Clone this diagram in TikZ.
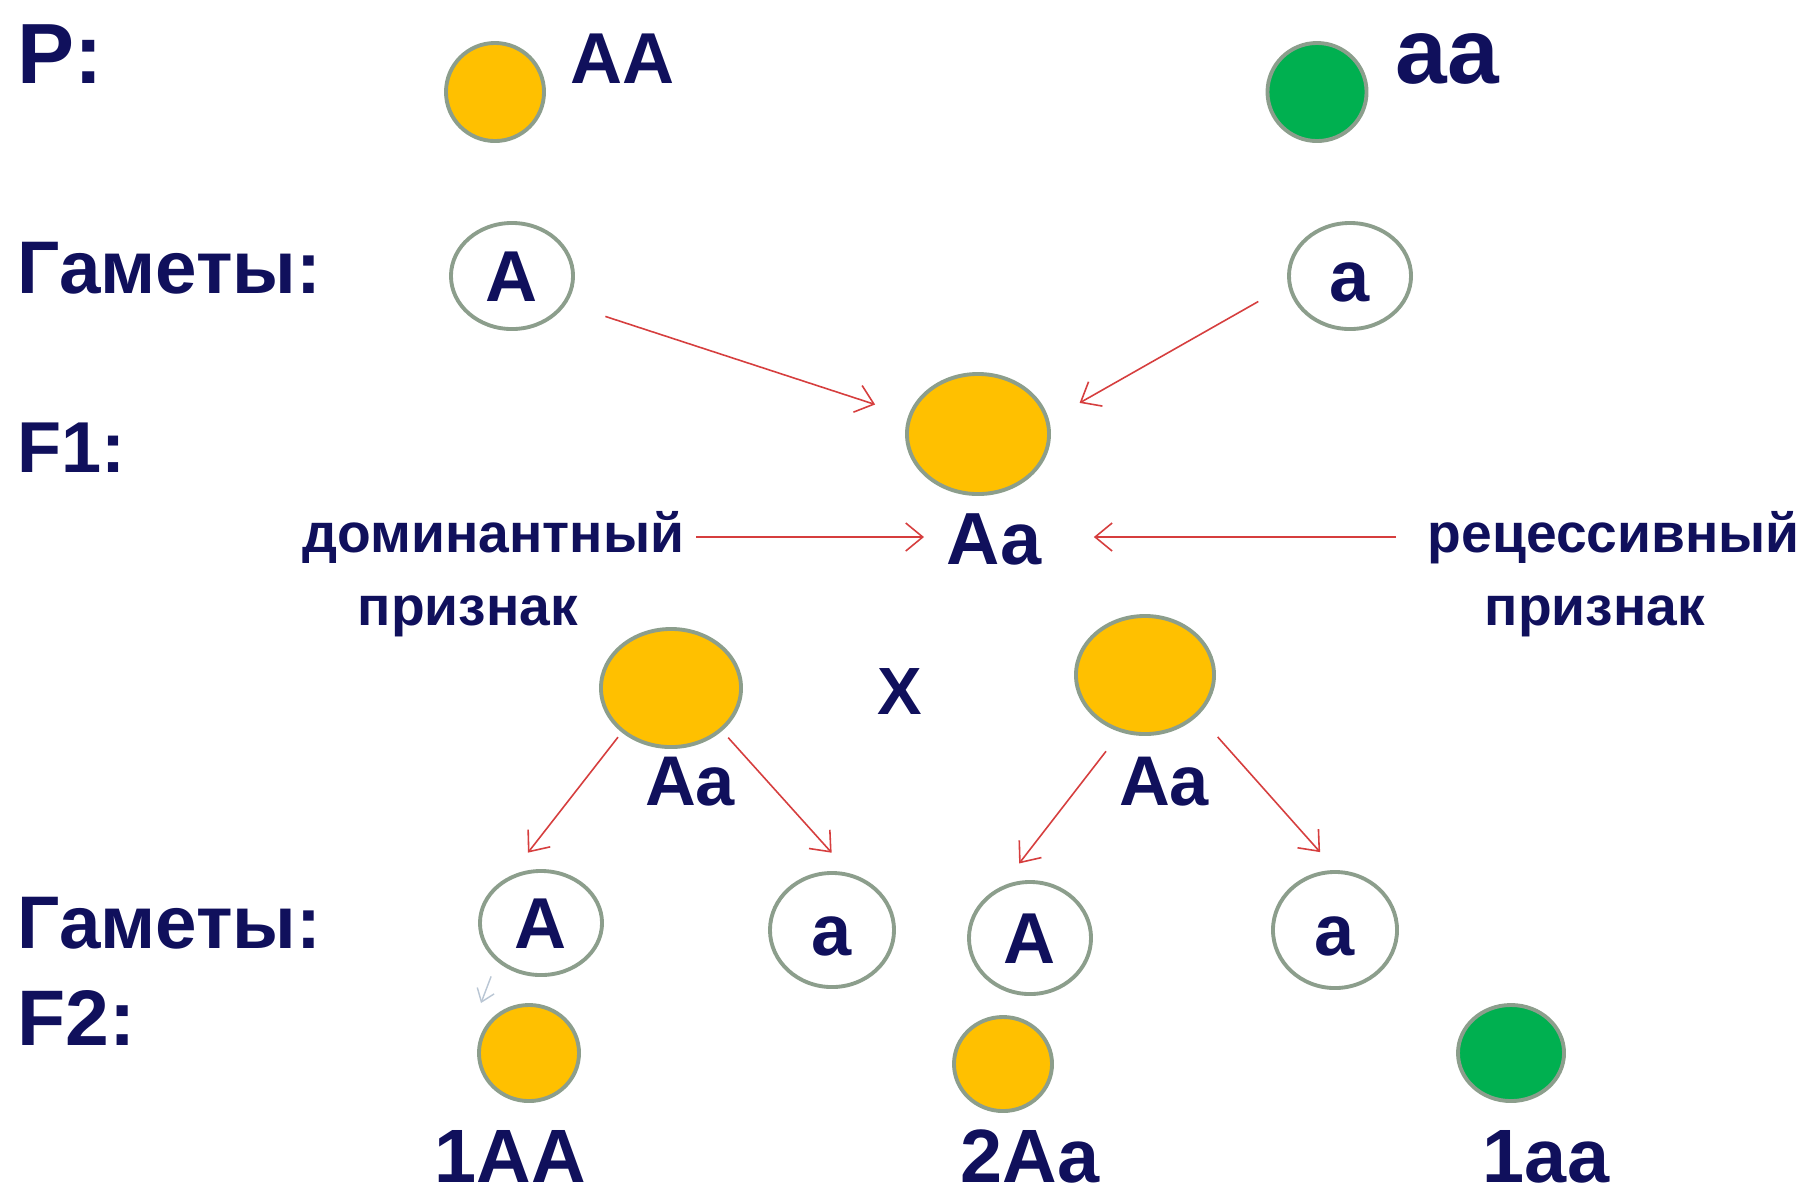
\documentclass[tikz,border=0pt]{standalone}
\usepackage{fontspec}
\setmainfont{Liberation Sans}
\usetikzlibrary{shapes.geometric,arrows.meta}

\definecolor{ink}{RGB}{16,16,92}
\definecolor{yellowball}{RGB}{255,192,0}
\definecolor{greenball}{RGB}{0,176,80}
\definecolor{rim}{RGB}{140,158,140}
\definecolor{linkred}{RGB}{214,62,62}
\definecolor{faintblue}{RGB}{185,198,212}

\newcommand\setfs[1]{\fontsize{#1}{#1}\selectfont}

\begin{document}
\begin{tikzpicture}[x=0.01cm,y=-0.01cm,
  lbl/.style={inner sep=0pt, text=ink, font=\bfseries\setfs{21.2}},
  ball/.style={ellipse, draw=rim, line width=1.1pt, inner sep=0pt},
  yball/.style={ball, fill=yellowball},
  gball/.style={ball, fill=greenball},
  gamete/.style={ellipse, draw=rim, line width=1.1pt, fill=white, inner sep=0pt,
    text=ink, font=\bfseries\setfs{20.5}, text height=14.7pt, text depth=0pt},
  link/.style={draw=linkred, line width=0.45pt,
    -{Straight Barb[length=0.17cm,width=0.28cm]}},
  stray/.style={draw=faintblue, line width=0.4pt,
    -{Straight Barb[length=0.12cm,width=0.18cm]}}
]
\fill[white] (0,0) rectangle (1804,1199);
\useasboundingbox (0,0) rectangle (1804,1199);

% generation labels
\node[lbl, font=\bfseries\setfs{24.3}, anchor=base west] (labP) at (17,83) {P:};
\node[lbl, anchor=base west] (labG1) at (17,293) {Гаметы:};
\node[lbl, font=\bfseries\setfs{20.5}, anchor=base west] (labF1) at (17,472) {F1:};
\node[lbl, anchor=base west] (labG2) at (17,948) {Гаметы:};
\node[lbl, font=\bfseries\setfs{22.4}, anchor=base west] (labF2) at (17,1045) {F2:};

% parents
\node[yball, minimum width=0.98cm, minimum height=0.98cm] (pAA) at (495,92) {};
\node[lbl, font=\bfseries\setfs{20.5}, anchor=base west] (tAA) at (570,83) {AA};
\node[gball, minimum width=0.99cm, minimum height=0.98cm] (paa) at (1317,92) {};
\node[lbl, font=\bfseries\setfs{26.4}, anchor=base west] (taa) at (1395,83) {aa};

% parental gametes
\node[gamete, minimum width=1.22cm, minimum height=1.06cm] (gA1) at (512,276) {A};
\node[gamete, minimum width=1.22cm, minimum height=1.06cm] (ga1) at (1350,276) {a};

% F1
\node[yball, minimum width=1.42cm, minimum height=1.20cm] (f1) at (978,434) {};
\node[lbl, font=\bfseries\setfs{21}, anchor=west, text height=0.54cm, text depth=0pt] (tF1) at (946,537) {Aa};

\draw[link, shorten <=0.41cm, shorten >=0.35cm] (gA1.333) -- (f1.165);
\draw[link, shorten <=0.34cm, shorten >=0.35cm] (ga1.188) -- (f1.11);

% trait captions
\node[lbl, font=\bfseries\setfs{15.7}, anchor=east, text height=0.30cm, text depth=0pt] (tdom) at (685,537) {доминантный};
\node[lbl, font=\bfseries\setfs{15.7}, anchor=base west] (tdom2) at (357,625) {признак};
\node[lbl, font=\bfseries\setfs{15.7}, anchor=west, text height=0.30cm, text depth=0pt] (trec) at (1427,537) {рецессивный};
\node[lbl, font=\bfseries\setfs{15.7}, anchor=base west] (trec2) at (1484,625) {признак};

\draw[link, shorten <=0.11cm, shorten >=0.22cm] (tdom.east) -- (tF1.west);
\draw[link, shorten <=0.31cm, shorten >=0.52cm] (trec.west) -- (tF1.east);

% F1 x F1 cross
\node[yball, minimum width=1.40cm, minimum height=1.18cm] (pL) at (671,688) {};
\node[yball, minimum width=1.38cm, minimum height=1.18cm] (pR) at (1145,675) {};
\node[lbl, font=\bfseries\setfs{19}, anchor=base] (tX) at (900,714) {X};
\node[lbl, font=\bfseries\setfs{20}, anchor=base] (tL) at (690,805) {Aa};
\node[lbl, font=\bfseries\setfs{20}, anchor=base] (tR) at (1164,805) {Aa};

% F1 gametes
\node[gamete, minimum width=1.22cm, minimum height=1.04cm] (gA2) at (541,923) {A};
\node[gamete, minimum width=1.24cm, minimum height=1.14cm] (ga2) at (832,930) {a};
\node[gamete, minimum width=1.22cm, minimum height=1.12cm] (gA3) at (1030,938) {A};
\node[gamete, minimum width=1.24cm, minimum height=1.16cm] (ga3) at (1335,930) {a};

\draw[link, shorten <=0.06cm, shorten >=0.30cm] (pL.222) -- (gA2.124);
\draw[link, shorten <=0.09cm, shorten >=0.28cm] (pL.320) -- (ga2.72);
\draw[link, shorten <=0.24cm, shorten >=0.29cm] (pR.247) -- (gA3.119);
\draw[link, shorten <=0.29cm, shorten >=0.24cm] (pR.323) -- (ga3.89);

\coordinate (strayend) at (481,1003);
\draw[stray, shorten <=0.16cm] (gA2.221) -- (strayend);

% F2 offspring
\node[yball, minimum width=1.00cm, minimum height=0.96cm] (o1) at (529,1053) {};
\node[yball, minimum width=0.98cm, minimum height=0.94cm] (o2) at (1003,1064) {};
\node[gball, minimum width=1.06cm, minimum height=0.96cm] (o3) at (1511,1053) {};
\node[lbl, font=\bfseries\setfs{21.5}, anchor=base] (t1AA) at (510,1182) {1AA};
\node[lbl, font=\bfseries\setfs{21.5}, anchor=base] (t2Aa) at (1030,1182) {2Aa};
\node[lbl, font=\bfseries\setfs{21.5}, anchor=base] (t1aa) at (1546,1182) {1aa};
\end{tikzpicture}
\end{document}
